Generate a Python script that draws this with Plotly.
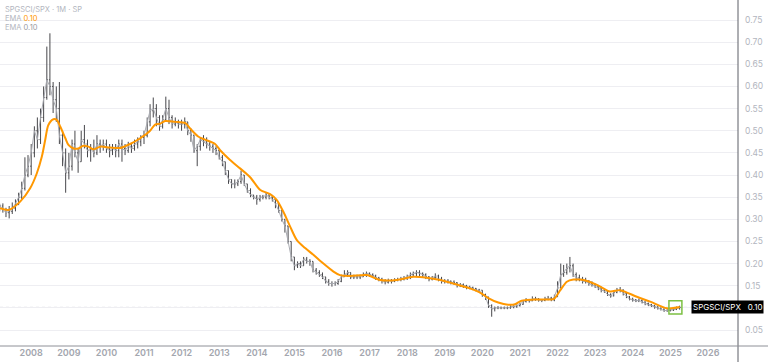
import pandas as pd
import plotly.graph_objects as go

# ---------------- data (monthly SPGSCI/SPX) ----------------
start_month = "2007-03-01"
first_open = 0.325

close = [
    # 2007 (Mar-Dec)
    0.330, 0.322, 0.315, 0.318, 0.325, 0.335, 0.350, 0.370, 0.400, 0.420,
    # 2008
    0.450, 0.500, 0.480, 0.530, 0.575, 0.615, 0.600, 0.570, 0.550, 0.490, 0.450, 0.405,
    # 2009
    0.420, 0.470, 0.450, 0.430, 0.480, 0.470, 0.455, 0.460, 0.450, 0.470, 0.465, 0.470,
    # 2010
    0.460, 0.455, 0.460, 0.455, 0.470, 0.460, 0.455, 0.465, 0.460, 0.470, 0.475, 0.485,
    # 2011
    0.490, 0.520, 0.545, 0.550, 0.530, 0.510, 0.525, 0.550, 0.530, 0.515, 0.520, 0.515,
    # 2012
    0.515, 0.520, 0.500, 0.490, 0.455, 0.465, 0.480, 0.475, 0.470, 0.465, 0.460, 0.455,
    # 2013
    0.440, 0.430, 0.410, 0.390, 0.380, 0.380, 0.385, 0.400, 0.380, 0.365, 0.355, 0.350,
    # 2014
    0.345, 0.350, 0.350, 0.355, 0.350, 0.345, 0.335, 0.320, 0.300, 0.285, 0.250, 0.215,
    # 2015
    0.195, 0.200, 0.195, 0.210, 0.205, 0.205, 0.185, 0.180, 0.175, 0.170, 0.160, 0.155,
    # 2016
    0.155, 0.155, 0.160, 0.170, 0.175, 0.180, 0.170, 0.170, 0.170, 0.170, 0.175, 0.178,
    # 2017
    0.175, 0.172, 0.168, 0.165, 0.160, 0.158, 0.162, 0.160, 0.163, 0.164, 0.165, 0.168,
    # 2018
    0.170, 0.175, 0.178, 0.180, 0.178, 0.175, 0.170, 0.165, 0.168, 0.172, 0.165, 0.160,
    # 2019
    0.160, 0.160, 0.158, 0.157, 0.150, 0.152, 0.150, 0.147, 0.146, 0.144, 0.140, 0.140,
    # 2020
    0.130, 0.125, 0.105, 0.098, 0.100, 0.100, 0.100, 0.100, 0.100, 0.102, 0.103, 0.105,
    # 2021
    0.108, 0.115, 0.117, 0.116, 0.120, 0.120, 0.118, 0.117, 0.120, 0.122, 0.118, 0.125,
    # 2022
    0.145, 0.175, 0.180, 0.190, 0.195, 0.175, 0.168, 0.165, 0.160, 0.160, 0.155, 0.152,
    # 2023
    0.148, 0.145, 0.140, 0.138, 0.130, 0.127, 0.135, 0.140, 0.140, 0.133, 0.125, 0.120,
    # 2024
    0.118, 0.116, 0.117, 0.113, 0.110, 0.107, 0.105, 0.102, 0.099, 0.097, 0.094, 0.094,
    # 2025 (Jan-Apr)
    0.095, 0.097, 0.099, 0.101,
]

high = [
    0.335, 0.336, 0.326, 0.330, 0.338, 0.345, 0.360, 0.385, 0.440, 0.445,
    0.470, 0.510, 0.530, 0.550, 0.600, 0.690, 0.720, 0.610, 0.600, 0.610, 0.500, 0.460,
    0.450, 0.480, 0.500, 0.460, 0.500, 0.513, 0.480, 0.470, 0.480, 0.490, 0.480, 0.480,
    0.480, 0.470, 0.470, 0.470, 0.480, 0.480, 0.470, 0.475, 0.470, 0.480, 0.485, 0.490,
    0.500, 0.530, 0.560, 0.575, 0.560, 0.535, 0.535, 0.577, 0.570, 0.535, 0.530, 0.525,
    0.525, 0.530, 0.520, 0.505, 0.490, 0.470, 0.485, 0.490, 0.485, 0.475, 0.470, 0.465,
    0.460, 0.445, 0.430, 0.410, 0.390, 0.390, 0.390, 0.410, 0.400, 0.380, 0.370, 0.355,
    0.355, 0.355, 0.355, 0.360, 0.355, 0.355, 0.345, 0.335, 0.320, 0.300, 0.285, 0.250,
    0.215, 0.205, 0.205, 0.215, 0.215, 0.210, 0.205, 0.190, 0.185, 0.180, 0.170, 0.165,
    0.160, 0.160, 0.165, 0.175, 0.185, 0.185, 0.180, 0.175, 0.175, 0.175, 0.180, 0.182,
    0.180, 0.178, 0.175, 0.170, 0.168, 0.165, 0.166, 0.165, 0.167, 0.168, 0.170, 0.172,
    0.175, 0.180, 0.182, 0.185, 0.185, 0.180, 0.178, 0.172, 0.172, 0.178, 0.175, 0.170,
    0.165, 0.165, 0.162, 0.162, 0.158, 0.156, 0.155, 0.152, 0.150, 0.148, 0.145, 0.143,
    0.140, 0.132, 0.125, 0.108, 0.103, 0.104, 0.103, 0.103, 0.103, 0.106, 0.106, 0.108,
    0.112, 0.118, 0.122, 0.120, 0.126, 0.125, 0.122, 0.120, 0.125, 0.127, 0.125, 0.130,
    0.160, 0.200, 0.197, 0.200, 0.215, 0.200, 0.180, 0.175, 0.170, 0.168, 0.163, 0.160,
    0.155, 0.150, 0.148, 0.143, 0.140, 0.133, 0.138, 0.145, 0.147, 0.142, 0.135, 0.127,
    0.123, 0.120, 0.121, 0.119, 0.115, 0.112, 0.109, 0.107, 0.104, 0.101, 0.099, 0.097,
    0.098, 0.100, 0.103, 0.105,
]

low = [
    0.318, 0.315, 0.305, 0.302, 0.312, 0.318, 0.332, 0.345, 0.365, 0.395,
    0.400, 0.440, 0.460, 0.470, 0.520, 0.570, 0.580, 0.540, 0.520, 0.470, 0.420, 0.360,
    0.390, 0.410, 0.440, 0.405, 0.430, 0.460, 0.440, 0.430, 0.440, 0.445, 0.450, 0.455,
    0.450, 0.440, 0.445, 0.440, 0.440, 0.430, 0.445, 0.450, 0.450, 0.455, 0.460, 0.465,
    0.470, 0.485, 0.510, 0.530, 0.510, 0.500, 0.505, 0.520, 0.515, 0.505, 0.510, 0.505,
    0.500, 0.505, 0.490, 0.475, 0.450, 0.420, 0.455, 0.465, 0.460, 0.455, 0.450, 0.445,
    0.435, 0.420, 0.400, 0.380, 0.370, 0.370, 0.375, 0.380, 0.375, 0.360, 0.350, 0.345,
    0.333, 0.340, 0.345, 0.345, 0.345, 0.340, 0.325, 0.315, 0.295, 0.270, 0.245, 0.205,
    0.185, 0.190, 0.190, 0.195, 0.200, 0.195, 0.180, 0.175, 0.170, 0.165, 0.155, 0.150,
    0.148, 0.150, 0.152, 0.158, 0.170, 0.170, 0.165, 0.165, 0.165, 0.165, 0.170, 0.170,
    0.170, 0.168, 0.163, 0.160, 0.155, 0.153, 0.155, 0.155, 0.158, 0.160, 0.160, 0.162,
    0.163, 0.165, 0.170, 0.172, 0.172, 0.168, 0.165, 0.160, 0.162, 0.165, 0.160, 0.155,
    0.155, 0.155, 0.153, 0.152, 0.146, 0.147, 0.145, 0.142, 0.142, 0.140, 0.137, 0.136,
    0.125, 0.118, 0.100, 0.080, 0.092, 0.097, 0.097, 0.097, 0.097, 0.098, 0.099, 0.100,
    0.103, 0.107, 0.112, 0.112, 0.115, 0.116, 0.114, 0.113, 0.115, 0.117, 0.115, 0.115,
    0.125, 0.145, 0.170, 0.175, 0.180, 0.170, 0.160, 0.160, 0.155, 0.155, 0.150, 0.148,
    0.145, 0.140, 0.135, 0.134, 0.127, 0.123, 0.126, 0.133, 0.135, 0.128, 0.122, 0.117,
    0.114, 0.113, 0.113, 0.110, 0.106, 0.104, 0.102, 0.098, 0.096, 0.094, 0.091, 0.091,
    0.092, 0.093, 0.095, 0.096,
]

# orange EMA at these dates
ema_dates = [
    "2007-03-04", "2007-05-26", "2007-09-16", "2007-12-22", "2008-02-25", "2008-04-13",
    "2008-05-16", "2008-06-16", "2008-08-04", "2008-09-07", "2008-10-10", "2008-11-28",
    "2008-12-28", "2009-02-15", "2009-04-04", "2009-05-22", "2009-07-10", "2009-08-28",
    "2009-11-01", "2010-02-06", "2010-05-13", "2010-08-19", "2010-11-25", "2011-03-01",
    "2011-04-19", "2011-06-07", "2011-07-25", "2011-11-01", "2012-02-07", "2012-03-25",
    "2012-06-10", "2012-08-16", "2012-11-22", "2013-01-10", "2013-04-16", "2013-07-22",
    "2013-10-28", "2014-02-04", "2014-05-10", "2014-07-13", "2014-09-16", "2014-11-22",
    "2015-01-25", "2015-04-16", "2015-07-04", "2015-10-10", "2016-01-16", "2016-03-19",
    "2016-06-25", "2016-12-04", "2017-04-13", "2017-09-22", "2018-03-01", "2018-07-10",
    "2018-11-16", "2019-02-22", "2019-09-01", "2019-12-22", "2020-02-28", "2020-06-04",
    "2020-09-07", "2020-11-13", "2021-01-16", "2021-06-25", "2021-11-01", "2021-12-01",
    "2022-01-28", "2022-04-01", "2022-06-04", "2022-08-07", "2022-09-10", "2023-01-19",
    "2023-05-25", "2023-09-01", "2024-02-10", "2024-06-19", "2024-11-28", "2025-04-01",
]
ema_values = [
    0.325, 0.321, 0.340, 0.370, 0.404, 0.441,
    0.479, 0.513, 0.526, 0.524, 0.509, 0.483,
    0.468, 0.460, 0.460, 0.466, 0.464, 0.458,
    0.464, 0.462, 0.461, 0.470, 0.483, 0.500,
    0.514, 0.516, 0.522, 0.520, 0.517, 0.505,
    0.487, 0.480, 0.470, 0.456, 0.434, 0.415,
    0.395, 0.366, 0.357, 0.344, 0.317, 0.283,
    0.253, 0.235, 0.220, 0.200, 0.182, 0.174,
    0.172, 0.174, 0.163, 0.163, 0.170, 0.168,
    0.163, 0.157, 0.144, 0.133, 0.122, 0.112,
    0.107, 0.108, 0.116, 0.119, 0.119, 0.121,
    0.140, 0.159, 0.164, 0.164, 0.163, 0.152,
    0.137, 0.140, 0.125, 0.114, 0.099, 0.102,
]

y_ticks = [0.05, 0.10, 0.15, 0.20, 0.25, 0.30, 0.35, 0.40, 0.45, 0.50, 0.55, 0.60, 0.65, 0.70, 0.75]
year_ticks = [str(y) for y in range(2008, 2027)]
symbol = "SPGSCI/SPX"

# ---------------- build ----------------
dates = pd.date_range(start_month, periods=len(close), freq="MS")
opens = [first_open] + close[:-1]
high = [max(h, o, c) for h, o, c in zip(high, opens, close)]
low = [min(l, o, c) for l, o, c in zip(low, opens, close)]
last = close[-1]

BAR = "#47474b"
ORANGE = "#FF9800"
GRID = "#eeeef2"
TXT = "#b2b5be"

fig = go.Figure()
fig.add_trace(go.Scatter(x=dates, y=close, mode="lines",
                         line=dict(color="#a9abb2", width=1), hoverinfo="skip"))
fig.add_trace(go.Ohlc(x=dates, open=opens, high=high, low=low, close=close,
                      increasing=dict(line=dict(color=BAR, width=1)),
                      decreasing=dict(line=dict(color=BAR, width=1)),
                      tickwidth=0.35))
fig.add_trace(go.Scatter(x=pd.to_datetime(ema_dates), y=ema_values, mode="lines",
                         line=dict(color=ORANGE, width=2, shape="spline", smoothing=0.8),
                         hoverinfo="skip"))

# last-value dotted line
fig.add_shape(type="line", xref="paper", x0=0, x1=1, yref="y", y0=last, y1=last,
              line=dict(color="#9598a1", width=1, dash="dot"), layer="below")

# highlight box around last bars
n_hl = 4
x_hl0 = dates[-n_hl] - pd.Timedelta(days=14)
x_hl1 = dates[-1] + pd.Timedelta(days=22)
y_hl0 = min(low[-n_hl:]) - 0.006
y_hl1 = max(high[-n_hl:]) + 0.011
fig.add_shape(type="rect", xref="x", yref="y", x0=x_hl0, x1=x_hl1, y0=y_hl0, y1=y_hl1,
              line=dict(color="#7cc043", width=1.5))

# frame lines: price-scale separator and time-scale separator
fig.add_shape(type="line", xref="paper", yref="paper", x0=1, x1=1, y0=-16 / 346, y1=1,
              line=dict(color="#5d5f66", width=1))
fig.add_shape(type="line", xref="paper", yref="paper", x0=0, x1=768 / 738,
              y0=0, y1=0, line=dict(color="#8e9097", width=1))

# header text
HDR = 7.5
fig.add_annotation(xref="paper", yref="paper", x=0.004, y=1 - 9 / 346, xanchor="left",
                   yanchor="middle", showarrow=False,
                   text=f"{symbol} · 1M · SP", font=dict(size=HDR, color=TXT))
fig.add_annotation(xref="paper", yref="paper", x=0.004, y=1 - 18.5 / 346, xanchor="left",
                   yanchor="middle", showarrow=False,
                   text=f"EMA <span style='color:{ORANGE}'>{last:.2f}</span>",
                   font=dict(size=HDR, color=TXT))
fig.add_annotation(xref="paper", yref="paper", x=0.004, y=1 - 28 / 346, xanchor="left",
                   yanchor="middle", showarrow=False,
                   text=f"EMA <span style='color:#9a9ca3'>{last:.2f}</span>",
                   font=dict(size=HDR, color=TXT))

# price label on the scale (covers the scale's own label at the last value)
fig.add_annotation(xref="paper", yref="y", x=727 / 738, y=last, xanchor="center",
                   yanchor="middle", showarrow=False,
                   text=f"{symbol}   {last:.2f}", bgcolor="#000000",
                   font=dict(size=8, color="#ffffff"), borderpad=1)

tick_text = ["" if abs(v - round(last, 2)) < 1e-9 else f"{v:.2f}" for v in y_ticks]

fig.update_layout(
    width=768, height=362,
    margin=dict(l=0, r=30, t=0, b=16, autoexpand=False),
    paper_bgcolor="#ffffff", plot_bgcolor="#ffffff",
    showlegend=False,
    font=dict(family="Inter, Roboto, sans-serif", color=TXT),
    xaxis=dict(
        type="date",
        range=["2007-03-04", "2026-10-20"],
        rangeslider=dict(visible=False),
        showgrid=False, zeroline=False, showline=False,
        tickmode="array",
        tickvals=[f"{y}-01-01" for y in year_ticks],
        ticktext=year_ticks,
        tickfont=dict(size=9, color="#a3a6ae", weight=600),
        ticks="",
    ),
    yaxis=dict(
        side="right",
        range=[0.0139, 0.7952],
        tickmode="array",
        tickvals=y_ticks,
        ticktext=tick_text,
        tickfont=dict(size=8.5, color=TXT),
        showgrid=True, gridcolor=GRID, gridwidth=1,
        zeroline=False, showline=False, ticks="",
        ticklabelstandoff=6,
    ),
)

fig.write_html(
    "out.html",
    config={"displayModeBar": False},
    post_script="document.body.style.margin='0';document.body.style.overflow='hidden';",
)
